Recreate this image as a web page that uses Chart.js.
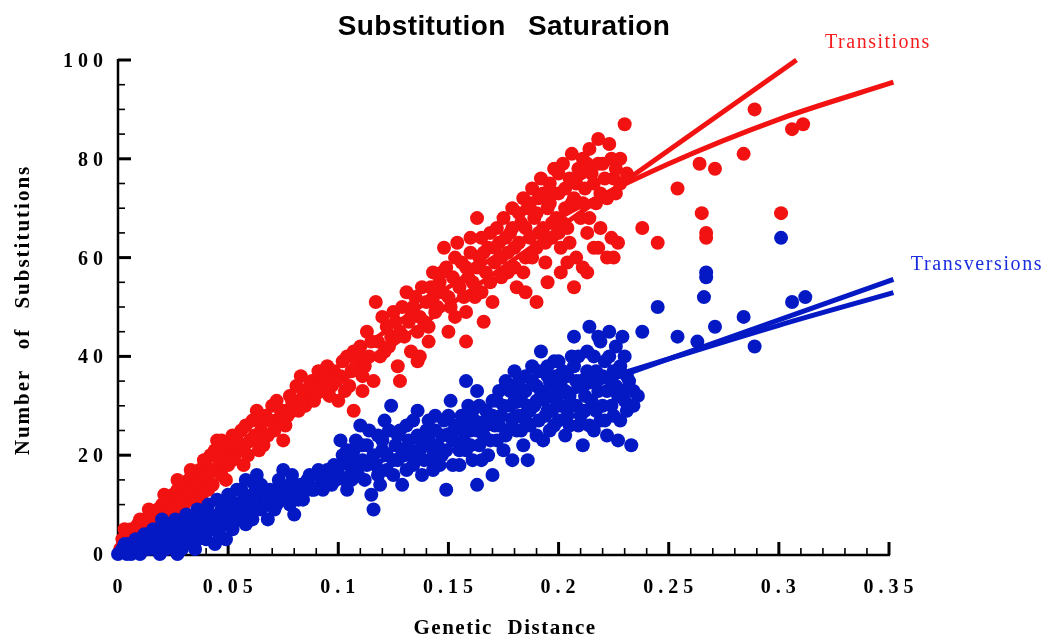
<!DOCTYPE html>
<html>
<head>
<meta charset="utf-8">
<title>Substitution Saturation</title>
<script src="https://cdn.jsdelivr.net/npm/chart.js@4"></script>
<style>
  html, body { margin: 0; padding: 0; background: #fff; }
  #wrap { width: 1047px; height: 637px; }
</style>
</head>
<body>
<div id="wrap"><canvas id="chart"></canvas></div>
<script>
// Datos (distancia genetica, numero de sustituciones)
const transitionPoints = [
  [0.001,1],[0.002,3],[0.003,2],[0.004,4],[0.005,3],[0.006,5],[0.008,4],[0.009,6],[0.010,3],[0.011,5],
  [0.012,7],[0.013,4],[0.014,6],[0.015,8],[0.016,5],[0.017,7],[0.018,9],[0.019,6],[0.020,10],[0.021,8],
  [0.022,11],[0.023,7],[0.024,9],[0.025,12],[0.026,10],[0.027,13],[0.028,9],[0.029,11],[0.030,14],[0.031,12],
  [0.032,15],[0.033,11],[0.034,13],[0.035,16],[0.036,14],[0.037,17],[0.038,12],[0.039,15],[0.040,18],[0.041,16],
  [0.042,20],[0.043,14],[0.044,17],[0.045,23],[0.046,19],[0.047,16],[0.048,21],[0.050,18],[0.051,22],[0.052,24],
  [0.053,20],[0.055,21],[0.056,25],[0.057,18],[0.058,26],[0.060,23],[0.061,27],[0.063,29],[0.064,21],[0.065,25],
  [0.067,28],[0.068,24],[0.070,30],[0.072,31],[0.073,27],[0.075,23],[0.076,29],[0.077,28],[0.078,32],[0.080,30],
  [0.081,34],[0.083,36],[0.084,32],[0.086,33],[0.088,35],[0.090,33],[0.091,37],[0.093,35],[0.095,38],[0.097,34],
  [0.098,37],[0.100,31],[0.101,36],[0.102,39],[0.104,40],[0.105,34],[0.107,29],[0.107,41],[0.108,38],[0.110,42],
  [0.111,36],[0.113,45],[0.114,40],[0.116,35],[0.117,51],[0.118,43],[0.120,48],[0.121,41],[0.122,46],[0.124,44],
  [0.125,49],[0.127,38],[0.128,45],[0.129,50],[0.131,53],[0.132,47],[0.133,41],[0.134,50],[0.136,39],[0.136,45],
  [0.137,48],[0.138,54],[0.140,51],[0.141,46],[0.143,57],[0.143,52],[0.144,49],[0.146,55],[0.147,53],[0.148,62],
  [0.149,58],[0.150,45],[0.151,50],[0.152,56],[0.154,63],[0.155,54],[0.156,59],[0.158,43],[0.158,49],[0.158,58],
  [0.160,61],[0.161,55],[0.162,52],[0.163,68],[0.164,60],[0.165,64],[0.166,47],[0.167,57],[0.168,62],[0.170,51],
  [0.171,59],[0.172,66],[0.173,63],[0.174,56],[0.175,68],[0.177,61],[0.178,65],[0.179,70],[0.180,58],[0.181,54],
  [0.182,63],[0.183,67],[0.184,72],[0.185,60],[0.186,70],[0.187,64],[0.188,74],[0.189,68],[0.190,51],[0.190,62],
  [0.191,72],[0.192,76],[0.193,66],[0.194,59],[0.195,70],[0.196,75],[0.197,64],[0.198,78],[0.199,68],[0.200,73],
  [0.201,57],[0.201,62],[0.202,79],[0.203,70],[0.204,66],[0.205,76],[0.206,81],[0.207,54],[0.207,72],[0.208,60],
  [0.209,78],[0.210,68],[0.211,80],[0.212,74],[0.213,57],[0.213,65],[0.214,82],[0.215,77],[0.216,62],[0.217,71],
  [0.218,84],[0.219,73],[0.220,79],[0.222,60],[0.223,83],[0.224,64],[0.225,76],[0.226,78],[0.227,63],[0.228,80],
  [0.230,87],[0.231,77],
  [0.003,5],[0.007,3],[0.010,7],[0.014,9],[0.018,5],[0.021,12],[0.024,7],[0.027,15],[0.030,10],[0.033,17],
  [0.036,11],[0.039,19],[0.041,13],[0.044,21],[0.047,23],[0.049,15],
  [0.052,19],[0.054,23],[0.057,22],[0.059,20],[0.062,24],[0.064,27],[0.066,22],[0.069,27],[0.071,25],[0.074,29],
  [0.076,26],[0.079,31],[0.082,29],[0.085,30],[0.087,34],[0.089,31],[0.092,33],[0.094,36],[0.096,32],[0.099,35],
  [0.103,33],[0.106,37],[0.109,40],[0.112,38],[0.115,43],[0.119,40],[0.123,42],[0.126,47],[0.130,44],[0.133,48],
  [0.135,52],[0.139,47],[0.142,54],[0.145,50],[0.147,57],[0.150,52],[0.153,48],[0.111,33],[0.128,35],[0.137,40],
  [0.141,43],
  [0.153,60],[0.157,52],[0.159,56],[0.160,64],[0.163,58],[0.165,53],[0.166,61],[0.169,55],[0.169,65],[0.171,62],
  [0.174,60],[0.176,64],[0.177,57],[0.179,66],[0.180,62],[0.182,69],[0.184,57],[0.185,66],[0.187,71],[0.188,60],
  [0.190,69],[0.191,65],[0.193,73],[0.194,63],[0.196,71],[0.197,67],[0.198,73],[0.200,65],[0.200,77],[0.185,53],
  [0.195,55],
  [0.202,67],[0.203,74],[0.205,63],[0.206,71],[0.208,75],[0.210,77],[0.211,71],[0.213,79],[0.214,68],[0.216,75],
  [0.218,79],[0.219,66],[0.221,76],[0.222,72],[0.224,80],[0.226,73],[0.228,75],[0.225,60],[0.218,62],[0.211,58],
  [0.204,59],
  [0.238,66],[0.245,63],[0.254,74],[0.264,79],[0.265,69],[0.267,65],[0.267,64],[0.271,78],[0.284,81],[0.289,90],
  [0.301,69],[0.306,86],[0.311,87]
];

const transversionPoints = [
  [0.000,0],[0.002,1],[0.004,0],[0.005,2],[0.007,1],[0.008,3],[0.010,0],[0.011,2],[0.012,4],[0.014,1],
  [0.015,3],[0.016,5],[0.018,2],[0.019,0],[0.020,4],[0.021,6],[0.022,1],[0.023,3],[0.024,5],[0.025,2],
  [0.026,7],[0.027,0],[0.028,4],[0.029,6],[0.030,2],[0.031,8],[0.032,5],[0.033,3],[0.034,7],[0.035,1],
  [0.036,9],[0.037,6],[0.038,4],[0.039,8],[0.040,3],[0.041,10],[0.042,5],[0.043,7],[0.044,2],[0.045,11],
  [0.046,4],[0.047,9],[0.048,6],[0.050,12],[0.051,8],[0.052,5],[0.053,10],[0.055,7],[0.056,13],[0.057,9],
  [0.058,6],[0.060,11],[0.061,7],[0.062,14],[0.064,13],[0.065,9],[0.066,11],[0.068,7],[0.070,12],[0.072,10],
  [0.073,15],[0.075,17],[0.076,12],[0.077,11],[0.078,14],[0.080,8],[0.081,13],[0.083,14],[0.084,11],[0.086,15],
  [0.088,13],[0.090,16],[0.092,14],[0.094,15],[0.095,17],[0.097,14],[0.098,18],[0.100,16],[0.101,23],[0.102,20],
  [0.104,13],[0.105,18],[0.106,15],[0.107,21],[0.108,17],[0.110,26],[0.111,19],[0.112,15],[0.113,22],[0.115,12],
  [0.116,9],[0.117,18],[0.118,24],[0.119,14],[0.120,21],[0.121,27],[0.122,17],[0.124,30],[0.125,16],[0.126,22],
  [0.127,19],[0.128,25],[0.129,14],[0.130,20],[0.131,17],[0.132,23],[0.134,27],[0.135,19],[0.136,29],[0.137,21],
  [0.138,16],[0.140,25],[0.141,23],[0.142,19],[0.143,17],[0.144,28],[0.145,22],[0.147,20],[0.148,27],[0.149,13],
  [0.150,24],[0.151,31],[0.152,18],[0.153,26],[0.155,21],[0.156,28],[0.157,23],[0.158,35],[0.158,21],[0.159,30],
  [0.160,25],[0.161,19],[0.162,27],[0.163,14],[0.163,33],[0.164,22],[0.166,24],[0.167,29],[0.168,20],[0.170,16],
  [0.170,31],[0.171,26],[0.172,23],[0.173,33],[0.174,28],[0.175,21],[0.176,35],[0.177,25],[0.178,30],[0.179,19],
  [0.180,37],[0.181,25],[0.181,34],[0.182,28],[0.183,32],[0.184,22],[0.185,36],[0.186,19],[0.186,30],[0.187,26],
  [0.188,38],[0.189,30],[0.190,34],[0.191,27],[0.192,41],[0.193,23],[0.194,32],[0.195,36],[0.196,25],[0.196,35],
  [0.197,29],[0.198,39],[0.199,31],[0.200,27],[0.201,34],[0.202,37],[0.203,24],[0.204,28],[0.205,32],[0.206,40],
  [0.207,38],[0.207,44],[0.208,30],[0.209,26],[0.210,35],[0.211,22],[0.211,34],[0.212,29],[0.213,41],[0.214,46],
  [0.215,31],[0.216,25],[0.217,37],[0.218,33],[0.219,27],[0.219,43],[0.220,30],[0.221,39],[0.222,24],[0.223,45],
  [0.224,35],[0.225,28],[0.226,42],[0.227,23],[0.227,32],[0.228,38],[0.229,44],[0.230,31],[0.231,36],[0.233,22],
  [0.234,33],[0.236,32],
  [0.003,2],[0.006,0],[0.009,1],[0.013,3],[0.017,1],[0.020,7],[0.023,5],[0.026,3],[0.029,1],[0.031,4],
  [0.034,5],[0.036,3],[0.038,7],[0.040,9],[0.042,8],[0.044,5],[0.046,8],[0.048,10],[0.049,3],
  [0.051,11],[0.053,7],[0.054,13],[0.057,11],[0.059,8],[0.061,12],[0.063,9],[0.065,14],[0.067,10],[0.069,13],
  [0.071,9],[0.073,12],[0.074,14],[0.078,10],[0.079,16],[0.082,11],[0.085,13],[0.087,16],[0.089,13],[0.091,17],
  [0.093,13],[0.096,16],[0.099,15],[0.058,15],[0.063,16],
  [0.101,18],[0.103,15],[0.104,21],[0.106,19],[0.108,23],[0.109,16],[0.111,22],[0.113,18],[0.114,25],[0.116,20],
  [0.118,16],[0.120,23],[0.122,20],[0.123,25],[0.125,19],[0.127,24],[0.129,21],[0.131,26],[0.133,21],[0.134,18],
  [0.136,24],[0.138,22],[0.139,19],[0.141,27],[0.143,21],[0.144,25],[0.146,18],[0.147,24],[0.149,21],[0.150,28],
  [0.152,23],[0.154,26],[0.155,18],[0.157,25],[0.158,28],[0.160,22],[0.161,29],[0.163,25],[0.164,30],[0.165,19],
  [0.167,26],[0.169,23],[0.170,28],[0.172,31],[0.173,26],[0.175,30],[0.176,24],[0.178,33],[0.179,27],[0.180,31],
  [0.182,35],[0.183,25],[0.185,33],[0.187,29],[0.188,35],[0.190,31],[0.191,37],[0.192,33],[0.194,28],[0.195,38],
  [0.197,33],[0.198,26],[0.199,36],[0.200,39],[0.185,27],[0.190,24],[0.195,29],
  [0.201,30],[0.203,33],[0.204,36],[0.205,26],[0.206,30],[0.208,35],[0.209,40],[0.210,28],[0.212,32],[0.213,37],
  [0.214,26],[0.215,35],[0.216,40],[0.217,29],[0.218,44],[0.220,36],[0.221,27],[0.222,33],[0.223,40],[0.224,30],
  [0.225,37],[0.226,34],[0.228,27],[0.229,33],[0.230,40],[0.231,29],[0.232,35],[0.234,30],
  [0.238,45],[0.245,50],[0.254,44],[0.263,43],[0.266,52],[0.267,56],[0.267,57],[0.271,46],[0.284,48],[0.289,42],
  [0.301,64],[0.306,51],[0.312,52]
];

// Curvas ajustadas
const transitionLinear = [[0, 3], [0.308, 100]];
const transitionCurve = [[0,0],[0.05,20],[0.1,38],[0.15,54],[0.2,68],[0.25,79],[0.3,88],[0.352,95.5]];
const transversionLinear = [[0, 0], [0.352, 55.6]];
const transversionCurve = [[0,0],[0.05,8.8],[0.1,17.2],[0.15,25.2],[0.2,32.6],[0.25,39.5],[0.3,46.3],[0.352,52.9]];

// Ejes
const xTicks = [0, 0.05, 0.1, 0.15, 0.2, 0.25, 0.3, 0.35];
const xTickLabels = ['0', '0.05', '0.1', '0.15', '0.2', '0.25', '0.3', '0.35'];
const yTicks = [0, 20, 40, 60, 80, 100];
const yTickLabels = ['0', '20', '40', '60', '80', '100'];

const RED = '#f21212';
const BLUE = '#0419c4';
const SERIF = '"Liberation Serif", "Times New Roman", serif';

const toXY = pts => pts.map(p => ({ x: p[0], y: p[1] }));

// Texto con espaciado
function drawText(ctx, text, x, y, opts) {
  ctx.save();
  ctx.font = opts.font;
  ctx.fillStyle = opts.color || '#000';
  ctx.textAlign = opts.align || 'left';
  ctx.textBaseline = opts.baseline || 'alphabetic';
  if ('letterSpacing' in ctx) ctx.letterSpacing = (opts.spacing || 0) + 'px';
  if ('wordSpacing' in ctx) ctx.wordSpacing = (opts.word || 0) + 'px';
  ctx.translate(x, y);
  if (opts.rotate) ctx.rotate(opts.rotate);
  ctx.fillText(text, 0, 0);
  ctx.restore();
}

// Ejes con marcas hacia adentro
const axesPlugin = {
  id: 'axesPlugin',
  beforeDatasetsDraw(chart) {
    const ctx = chart.ctx;
    const xs = chart.scales.x, ys = chart.scales.y;
    const x0 = xs.getPixelForValue(0), x1 = xs.getPixelForValue(0.35);
    const y0 = ys.getPixelForValue(0) + 1, y1 = ys.getPixelForValue(100);
    ctx.save();
    ctx.strokeStyle = '#000';
    ctx.lineWidth = 2.5;
    ctx.beginPath();
    ctx.moveTo(x0, y1 - 1); ctx.lineTo(x0, y0 + 1);
    ctx.moveTo(x0 - 1, y0); ctx.lineTo(x1 + 1, y0);
    ctx.stroke();
    // marcas x
    for (let i = 0; i <= 35; i++) {
      const px = xs.getPixelForValue(i / 100);
      const major = i % 5 === 0;
      ctx.lineWidth = major ? 3 : 1.6;
      ctx.beginPath();
      ctx.moveTo(px, y0);
      ctx.lineTo(px, y0 - (major ? 13 : 7));
      ctx.stroke();
    }
    // marcas y
    for (let v = 0; v <= 100; v += 5) {
      const py = ys.getPixelForValue(v);
      const major = v % 20 === 0;
      ctx.lineWidth = major ? 3 : 1.6;
      ctx.beginPath();
      ctx.moveTo(x0, py);
      ctx.lineTo(x0 + (major ? 13 : 7), py);
      ctx.stroke();
    }
    ctx.restore();
  },
  afterDraw(chart) {
    const ctx = chart.ctx;
    const xs = chart.scales.x, ys = chart.scales.y;
    const tickFont = 'bold 20px ' + SERIF;
    xTicks.forEach((v, i) => {
      drawText(ctx, xTickLabels[i], xs.getPixelForValue(v) + 2, 593,
        { font: tickFont, align: 'center', spacing: 5 });
    });
    yTicks.forEach((v, i) => {
      drawText(ctx, yTickLabels[i], 108, ys.getPixelForValue(v) + 7,
        { font: tickFont, align: 'right', spacing: 5 });
    });
    drawText(ctx, 'Substitution Saturation', 504, 35,
      { font: 'bold 28px "Liberation Sans", Arial, sans-serif', align: 'center', spacing: 0.4, word: 14 });
    drawText(ctx, 'Genetic Distance', 505, 634,
      { font: 'bold 21px ' + SERIF, align: 'center', spacing: 1.5, word: 8 });
    drawText(ctx, 'Number of Substitutions', 29, 310,
      { font: 'bold 21px ' + SERIF, align: 'center', spacing: 2, word: 12, rotate: -Math.PI / 2 });
    drawText(ctx, 'Transitions', 878, 48,
      { font: '20px ' + SERIF, color: '#f51c1c', align: 'center', spacing: 1.5 });
    drawText(ctx, 'Transversions', 977, 270,
      { font: '20px ' + SERIF, color: '#1a2ee0', align: 'center', spacing: 1.6 });
  }
};

const lineStyle = color => ({
  type: 'line',
  borderColor: color,
  borderWidth: 5,
  pointRadius: 0,
  fill: false,
  clip: false
});

new Chart(document.getElementById('chart'), {
  type: 'scatter',
  data: {
    datasets: [
      Object.assign(lineStyle(BLUE), { label: 'Transversions lineal', data: toXY(transversionLinear), order: 6 }),
      Object.assign(lineStyle(BLUE), { label: 'Transversions curva', data: toXY(transversionCurve), order: 6, cubicInterpolationMode: 'monotone' }),
      Object.assign(lineStyle(RED), { label: 'Transitions lineal', data: toXY(transitionLinear), order: 5 }),
      Object.assign(lineStyle(RED), { label: 'Transitions curva', data: toXY(transitionCurve), order: 5, cubicInterpolationMode: 'monotone' }),
      {
        label: 'Transversions',
        data: toXY(transversionPoints),
        backgroundColor: BLUE,
        borderColor: BLUE,
        pointRadius: 7,
        pointBorderWidth: 0,
        clip: false,
        order: 3
      },
      {
        label: 'Transitions',
        data: toXY(transitionPoints),
        backgroundColor: RED,
        borderColor: RED,
        pointRadius: 7,
        pointBorderWidth: 0,
        clip: false,
        order: 4
      }
    ]
  },
  options: {
    responsive: true,
    maintainAspectRatio: false,
    animation: false,
    layout: { padding: { left: 118, right: 158, top: 60, bottom: 83 } },
    plugins: {
      legend: { display: false },
      tooltip: { enabled: false }
    },
    scales: {
      x: { type: 'linear', min: 0, max: 0.35, display: false },
      y: { type: 'linear', min: 0, max: 100, display: false }
    }
  },
  plugins: [axesPlugin]
});
</script>
</body>
</html>
